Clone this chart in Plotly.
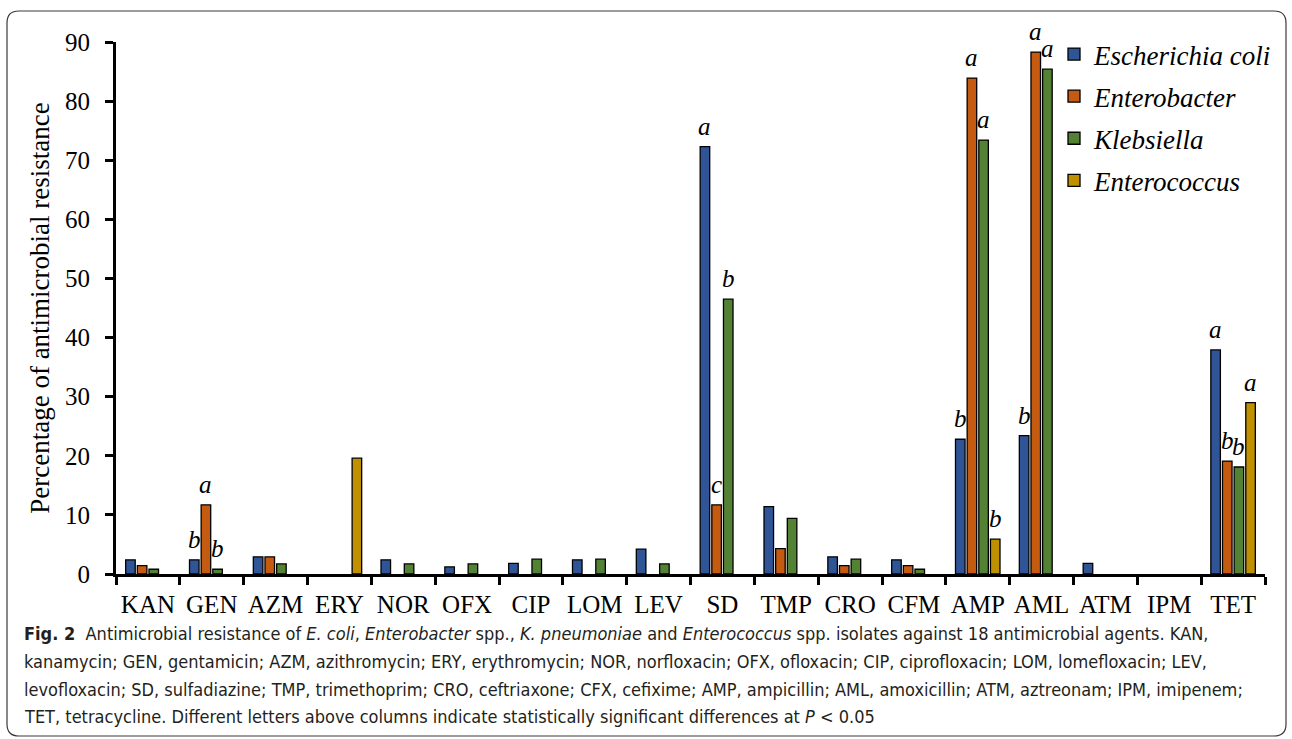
import plotly.graph_objects as go

categories = ["KAN", "GEN", "AZM", "ERY", "NOR", "OFX", "CIP", "LOM", "LEV",
              "SD", "TMP", "CRO", "CFM", "AMP", "AML", "ATM", "IPM", "TET"]
ecoli        = [2.4, 2.4, 2.9, None, 2.4, 1.2, 1.8, 2.4, 4.2, 72.3, 11.4, 2.9, 2.4, 22.8, 23.4, 1.8, None, 37.9]
enterobacter = [1.4, 11.7, 2.9, None, None, None, None, None, None, 11.7, 4.3, 1.4, 1.4, 83.9, 88.3, None, None, 19.1]
klebsiella   = [0.8, 0.8, 1.7, None, 1.7, 1.7, 2.5, 2.5, 1.7, 46.5, 9.4, 2.5, 0.8, 73.4, 85.4, None, None, 18.1]
enterococcus = [None, None, None, 19.6, None, None, None, None, None, None, None, None, None, 5.9, None, None, None, 29.0]
series_names = ["Escherichia coli", "Enterobacter", "Klebsiella", "Enterococcus"]
series_values = [ecoli, enterobacter, klebsiella, enterococcus]
colors = ["#2F5597", "#C55A11", "#548235", "#BF9000"]

# significance letters: (category, series index, letter)
letters = [("GEN", 0, "b"), ("GEN", 1, "a"), ("GEN", 2, "b"),
           ("SD", 0, "a"), ("SD", 1, "c"), ("SD", 2, "b"),
           ("AMP", 0, "b"), ("AMP", 1, "a"), ("AMP", 2, "a"), ("AMP", 3, "b"),
           ("AML", 0, "b"), ("AML", 1, "a"), ("AML", 2, "a"),
           ("TET", 0, "a"), ("TET", 1, "b"), ("TET", 2, "b"), ("TET", 3, "a")]

W, H = 1292, 739
L, R, T, B = 116, 1265, 42, 574
BARGAP = 0.27
SERIF = "Liberation Serif"

def px_x(p):
    return (p - L) / (R - L)

def px_y(p):
    return (B - p) / (B - T)

fig = go.Figure()
for i, (name, vals, col) in enumerate(zip(series_names, series_values, colors)):
    fig.add_trace(go.Bar(
        x=categories, y=vals, name=f"<i>{name}</i>",
        marker=dict(color=col, line=dict(color="black", width=1.3)),
        legendgroup=f"g{i}",
    ))

cat_w = (R - L) / len(categories)
slot = cat_w * (1 - BARGAP) / 4
annotations = []
for cat, si, let in letters:
    v = series_values[si][categories.index(cat)]
    annotations.append(dict(
        x=cat, y=v, xref="x", yref="y", text=f"<i>{let}</i>", showarrow=False,
        xshift=(si - 1.5) * slot, yshift=5, yanchor="bottom",
        font=dict(family=SERIF, size=25, color="black"),
    ))

caption_lines = [
    "<b>Fig. 2</b>  Antimicrobial resistance of <i>E. coli</i>, <i>Enterobacter</i> spp., <i>K. pneumoniae</i> and <i>Enterococcus</i> spp. isolates against 18 antimicrobial agents. KAN,",
    "kanamycin; GEN, gentamicin; AZM, azithromycin; ERY, erythromycin; NOR, norfloxacin; OFX, ofloxacin; CIP, ciprofloxacin; LOM, lomefloxacin; LEV,",
    "levofloxacin; SD, sulfadiazine; TMP, trimethoprim; CRO, ceftriaxone; CFX, cefixime; AMP, ampicillin; AML, amoxicillin; ATM, aztreonam; IPM, imipenem;",
    "TET, tetracycline. Different letters above columns indicate statistically significant differences at <i>P</i> &lt; 0.05",
]
cap_y = [633, 661, 689, 716]
for line, yy in zip(caption_lines, cap_y):
    annotations.append(dict(
        x=px_x(22), y=px_y(yy), xref="paper", yref="paper", text=line,
        showarrow=False, xanchor="left", yanchor="middle", align="left",
        font=dict(family="Liberation Sans Narrow, DejaVu Sans Condensed, Roboto Condensed, Arial Narrow, sans-serif",
                  size=18, color="#231F20"),
    ))

# rounded frame
x0, y0, x1, y1, r = 7, 11, 1286, 736, 12
def P(x, y):
    return f"{px_x(x):.5f},{px_y(y):.5f}"
path = (f"M {P(x0 + r, y0)} L {P(x1 - r, y0)} Q {P(x1, y0)} {P(x1, y0 + r)} "
        f"L {P(x1, y1 - r)} Q {P(x1, y1)} {P(x1 - r, y1)} L {P(x0 + r, y1)} "
        f"Q {P(x0, y1)} {P(x0, y1 - r)} L {P(x0, y0 + r)} Q {P(x0, y0)} {P(x0 + r, y0)} Z")
shapes = [dict(type="path", path=path, xref="paper", yref="paper",
               line=dict(color="#3a3a3a", width=1.2), fillcolor="rgba(0,0,0,0)", layer="below")]

fig.update_layout(
    width=W, height=H,
    margin=dict(l=L, r=W - R, t=T, b=H - B, autoexpand=False),
    paper_bgcolor="white", plot_bgcolor="white",
    barmode="group", bargap=BARGAP, bargroupgap=0.18,
    font=dict(family=SERIF, size=24, color="black"),
    showlegend=True,
    legend=dict(x=px_x(1054), y=px_y(30), xanchor="left", yanchor="top",
                font=dict(family=SERIF, size=27, color="black"),
                tracegroupgap=4, bgcolor="rgba(0,0,0,0)"),
    xaxis=dict(type="category", showline=True, linecolor="black", linewidth=3,
               ticks="outside", tickson="boundaries", ticklen=8, tickwidth=3, tickcolor="black",
               showgrid=False, zeroline=False, ticklabelstandoff=6, tickangle=0,
               tickfont=dict(family=SERIF, size=25)),
    yaxis=dict(range=[0, 90], dtick=10, showline=True, linecolor="black", linewidth=3,
               ticks="outside", ticklen=8, tickwidth=3, tickcolor="black",
               showgrid=False, zeroline=False, ticklabelstandoff=10,
               tickfont=dict(family=SERIF, size=25),
               title=dict(text="Percentage of antimicrobial resistance", standoff=8,
                          font=dict(family=SERIF, size=27))),
    annotations=annotations, shapes=shapes,
)

fig.write_html("out.html")
